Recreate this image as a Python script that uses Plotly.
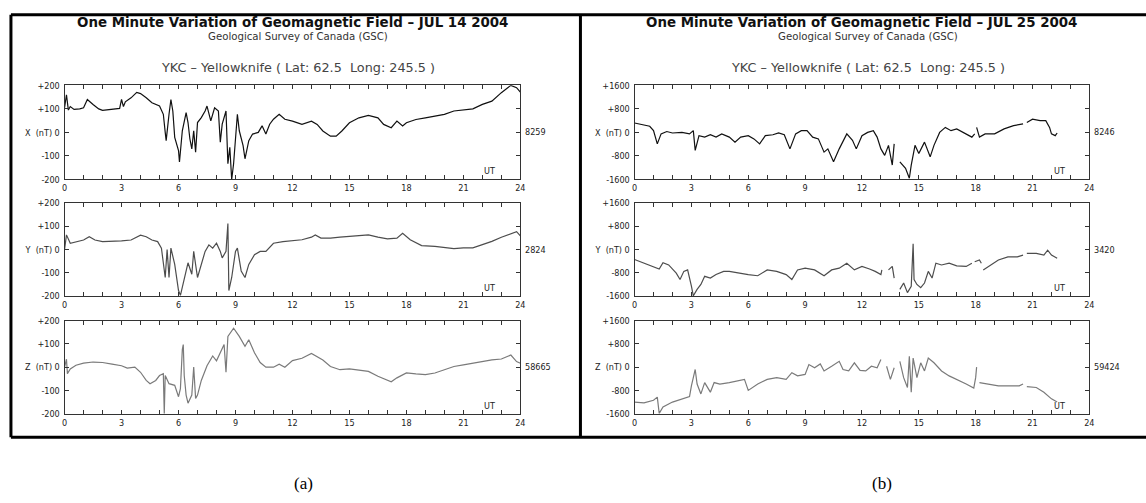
import plotly.graph_objects as go

# ---------------- data ----------------
hour_ticks = list(range(0, 25))
hour_labels = [str(h) if h % 3 == 0 else "" for h in hour_ticks]

left_ticks = [-200, -100, 0, 100, 200]
right_ticks = [-1600, -800, 0, 800, 1600]
left_tick_text = ["-200", "-100", "0", "+100", "+200"]
right_tick_text = ["-1600", "-800", "0", "+800", "+1600"]

components = ["X", "Y", "Z"]
baseline_jul14 = ["8259", "2824", "58665"]
baseline_jul25 = ["8246", "3420", "59424"]

# JUL 14 2004
jul14_x_t = [0, 0.1, 0.2, 0.3, 0.5, 0.8, 1.0, 1.2, 1.5, 1.8, 2.0, 2.5, 2.9, 3.0, 3.1, 3.2, 3.5, 3.8,
             4.0, 4.3, 4.6, 5.0, 5.2, 5.3, 5.35, 5.5, 5.6, 5.7, 5.8, 6.0, 6.05, 6.2, 6.4, 6.5, 6.6,
             6.7, 6.8, 6.9, 7.0, 7.2, 7.4, 7.5, 7.7, 7.9, 8.1, 8.2, 8.3, 8.5, 8.6, 8.7, 8.8, 8.9,
             9.0, 9.1, 9.2, 9.4, 9.5, 9.7, 9.9, 10.2, 10.4, 10.6, 10.8, 11.0, 11.3, 11.6, 12.0,
             12.5, 13.0, 13.3, 13.6, 14.0, 14.3, 14.6, 15.0, 15.5, 16.0, 16.5, 16.8, 17.2, 17.5,
             17.8, 18.0, 18.5, 19.0, 19.5, 20.0, 20.5, 21.0, 21.5, 22.0, 22.5, 23.0, 23.5, 23.8, 24.0]
jul14_x_v = [105, 160, 95, 110, 98, 100, 105, 140, 119, 100, 94, 98, 102, 140, 110, 130, 147, 170,
             165, 147, 126, 112, 77, 0, -35, 77, 140, 91, -21, -77, -126, 7, 84, 42, -28,
             -70, 7, -84, 42, 63, 91, 112, 49, 105, 91, -42, 35, 91, -133, -63, -200, -133,
             -35, 77, 7, -56, -112, -35, -7, 0, 28, -7, 35, 56, 77, 56, 48,
             34, 48, 34, 6, -16, -16, 6, 41, 62, 72, 62, 34, 20, 48,
             27, 41, 55, 62, 70, 77, 91, 95, 100, 119, 133, 169, 200, 190, 171]

jul14_y_t = [0, 0.1, 0.3, 0.7, 1.0, 1.3, 1.6, 2.0, 2.5, 3.0, 3.5, 4.0, 4.3, 4.6, 4.9, 5.1, 5.3, 5.4,
             5.5, 5.6, 5.8, 6.0, 6.1, 6.3, 6.5, 6.7, 6.8, 7.0, 7.2, 7.4, 7.6, 7.8, 8.0, 8.2, 8.3,
             8.5, 8.6, 8.65, 8.8, 9.0, 9.1, 9.3, 9.5, 9.7, 10.0, 10.3, 10.6, 11.0, 11.5, 12.0,
             12.5, 13.0, 13.2, 13.5, 14.0, 14.5, 15.0, 15.5, 16.0, 16.5, 17.0, 17.5, 17.8, 18.2,
             18.8, 19.5, 20.0, 20.5, 21.0, 21.5, 22.0, 22.5, 23.0, 23.5, 23.8, 24.0]
jul14_y_v = [0, 63, 27, 34, 41, 55, 41, 34, 34, 37, 41, 62, 55, 41, 34, 6, -120, 0,
             -120, 6, -64, -176, -197, -120, -57, -106, -8, -120, -64, -8, 20, 6, 27, -8, -36,
             -8, 112, -176, -120, -8, 6, -92, -120, -64, -22, -8, -8, 27, 34, 37,
             42, 53, 63, 49, 49, 53, 56, 59, 63, 53, 46, 49, 70, 42,
             17, 14, 10, 4, 7, 7, 21, 35, 53, 70, 77, 59]

jul14_z_t = [0, 0.1, 0.15, 0.3, 0.6, 1.0, 1.5, 2.0, 2.5, 3.0, 3.3, 3.7, 4.0, 4.3, 4.5, 4.8, 5.0,
             5.2, 5.25, 5.3, 5.5, 5.8, 6.0, 6.1, 6.2, 6.25, 6.3, 6.4, 6.5, 6.7, 6.8, 6.9, 7.0,
             7.2, 7.5, 7.8, 8.0, 8.2, 8.4, 8.5, 8.6, 8.9, 9.2, 9.5, 9.7, 10.0, 10.3, 10.6, 11.0,
             11.3, 11.6, 12.0, 12.5, 13.0, 13.3, 13.6, 14.0, 14.5, 15.0, 15.5, 16.0, 16.5, 17.0,
             17.2, 17.5, 18.0, 18.5, 19.0, 19.5, 20.0, 20.5, 21.0, 21.5, 22.0, 22.5, 23.0, 23.5,
             23.8, 24.0]
jul14_z_v = [0, 34, -28, -8, 8, 17, 22, 20, 13, 6, -4, 0, -22, -57, -71, -57, -36,
             -28, -200, -36, -71, -78, -127, -92, 76, 97, -36, -120, -155, -120, 0, -134, -120,
             -57, 6, 48, 27, 62, 97, -22, 132, 167, 132, 90, 118, 62, 20, 0, 0,
             13, 0, 28, 38, 59, 45, 31, 3, -11, -7, -11, -18, -39, -58,
             -63, -46, -25, -29, -32, -25, -11, 3, 10, 17, 27, 31, 35, 52,
             24, 17]

# JUL 25 2004 (None = missing data)
jul25_x_t = [0, 0.5, 0.8, 1.0, 1.2, 1.4, 1.7, 2.0, 2.5, 2.9, 3.1, 3.2, 3.4, 3.7, 4.0, 4.3, 4.6, 5.0,
             5.3, 5.6, 6.0, 6.3, 6.6, 6.9, 7.3, 7.6, 7.9, 8.2, 8.5, 8.8, 9.1, 9.4, 9.7, 10.0, 10.2,
             10.5, 10.8, 11.2, 11.5, 11.7, 12.0, 12.3, 12.6, 12.8, 13.0, 13.2, 13.4, 13.6, 13.7,
             13.85, 14.0, 14.3, 14.5, 14.6, 14.8, 15.0, 15.3, 15.6, 15.8, 16.1, 16.4, 16.7, 17.0,
             17.4, 17.8, 17.95, 18.0, 18.05, 18.2, 18.5, 19.0, 19.5, 20.0, 20.5, 20.6, 20.7, 21.0,
             21.4, 21.7, 21.9, 22.0, 22.2, 22.3]
jul25_x_v = [320, 250, 210, 60, -390, -50, 30, -20, 0, -50, 60, -610, -110, -160, -80, -160, -50, -160,
             -330, -160, -110, -220, -390, -110, -80, -20, -80, -560, -50, 60, 60, -160, -220, -670, -560,
             -1000, -560, -50, -270, -560, -110, 0, 60, -160, -560, -780, -440, -1110, -390,
             None, -1000, -1220, -1560, -1110, -440, -720, -330, -830, -440, 0, 170, 60, 120,
             -20, -160, -50, None, 170, -160, -50, -50, 120, 230, 290, None, 340, 450,
             400, 400, 170, -50, -110, -20]

jul25_y_t = [0, 0.5, 1.0, 1.3, 1.5, 1.8, 2.2, 2.4, 2.6, 2.8, 3.0, 3.1, 3.3, 3.5, 3.7, 4.0, 4.3, 4.7,
             5.0, 5.5, 6.0, 6.5, 7.0, 7.5, 8.0, 8.3, 8.6, 9.0, 9.5, 10.0, 10.4, 10.8, 11.2, 11.6,
             12.0, 12.4, 12.7, 13.0, 13.05, 13.2, 13.4, 13.6, 13.7, 13.85, 14.0, 14.2, 14.4, 14.6,
             14.7, 14.75, 14.9, 15.1, 15.3, 15.5, 15.7, 15.9, 16.2, 16.6, 17.0, 17.5, 17.8, 17.9,
             17.95, 18.2, 18.3, 18.35, 18.4, 18.8, 19.2, 19.7, 20.2, 20.5, 20.6, 20.7, 21.2, 21.6,
             21.8, 22.0, 22.3]
jul25_y_v = [-340, -470, -580, -670, -450, -530, -810, -1030, -750, -700, -1260, -1590, -1370, -1200, -920, -980, -860, -750,
             -750, -810, -860, -900, -700, -750, -860, -1030, -700, -640, -700, -900, -700, -640, -470, -700,
             -580, -670, -750, -860, -700, None, -700, -580, -980, None, -1370, -1150, -1480, -1260,
             200, -1030, -1200, -1310, -1150, -750, -980, -470, -530, -470, -560, -580, -470, None,
             -420, -360, -470, None, -700, -530, -360, -250, -250, -190, None, -130, -130, -190,
             -20, -190, -300]

jul25_z_t = [0, 0.5, 1.0, 1.2, 1.3, 1.5, 2.0, 2.5, 2.9, 3.0, 3.2, 3.3, 3.5, 3.7, 4.0, 4.2, 4.5, 5.0,
             5.5, 5.8, 6.0, 6.2, 6.5, 7.0, 7.5, 8.0, 8.3, 8.6, 9.0, 9.2, 9.5, 9.8, 10.0, 10.4, 10.8,
             11.0, 11.3, 11.6, 11.9, 12.2, 12.5, 12.8, 13.0, 13.15, 13.3, 13.5, 13.7, 13.85, 14.0,
             14.2, 14.4, 14.5, 14.6, 14.7, 14.9, 15.1, 15.3, 15.5, 15.8, 16.2, 16.6, 17.0, 17.5,
             17.9, 18.0, 18.05, 18.1, 18.2, 18.7, 19.2, 19.8, 20.3, 20.5, 20.6, 20.7, 21.2, 21.6,
             22.0, 22.3]
jul25_z_v = [-1200, -1230, -1140, -1030, -1590, -1370, -1200, -1090, -1010, -640, -80, -580, -920, -530, -860, -530, -580, -530,
             -470, -420, -800, -700, -580, -420, -360, -420, -190, -300, -250, 90, -20, 110, -130, 30, 200,
             -80, -130, 150, -110, -130, 30, -20, 260, None, 30, -420, -20, None, 200,
             -360, -700, 370, -860, 310, -360, 150, -130, 310, 150, -130, -300, -420, -580,
             -720, -360, 0, None, -530, -580, -640, -640, -640, -580, None, -670, -700, -860,
             -1090, -1200]

titles = ["One Minute Variation of Geomagnetic Field \u2013 JUL 14 2004",
          "One Minute Variation of Geomagnetic Field \u2013 JUL 25 2004"]
subtitle = "Geological Survey of Canada (GSC)"
station = "YKC \u2013 Yellowknife ( Lat: 62.5\u00a0\u00a0Long: 245.5 )"
captions = ["(a)", "(b)"]

# ---------------- layout helpers ----------------
W, H = 1146, 503
def px(x):
    return x / W
def py(y):
    return 1 - y / H

col_px = [(62, 521), (636, 1094)]
row_px = [(82, 178), (202, 297), (322, 417)]
line_colors = ["#111111", "#4d4d4d", "#7a7a7a"]
tick_font = dict(family="DejaVu Sans Condensed, Liberation Sans Narrow, Arial Narrow, sans-serif",
                 size=9, color="#222222")
head_family = "DejaVu Sans, Verdana, sans-serif"

series = [
    [(jul14_x_t, jul14_x_v), (jul14_y_t, jul14_y_v), (jul14_z_t, jul14_z_v)],
    [(jul25_x_t, jul25_x_v), (jul25_y_t, jul25_y_v), (jul25_z_t, jul25_z_v)],
]
baselines = [baseline_jul14, baseline_jul25]
yticks = [left_ticks, right_ticks]
ytick_text = [left_tick_text, right_tick_text]

fig = go.Figure()
layout = dict(width=W, height=H, margin=dict(l=0, r=0, t=0, b=0),
              paper_bgcolor="white", plot_bgcolor="white", showlegend=False)
annotations = []
n = 0
for c in range(2):
    for r in range(3):
        n += 1
        xa = "x" if n == 1 else f"x{n}"
        ya = "y" if n == 1 else f"y{n}"
        t, v = series[c][r]
        fig.add_trace(go.Scatter(x=t, y=v, mode="lines", xaxis=xa, yaxis=ya,
                                 line=dict(color=line_colors[r], width=1.2),
                                 connectgaps=False, hoverinfo="skip"))
        lim = yticks[c][-1]
        ttext = list(ytick_text[c])
        ttext[2] = f"{components[r]}\u00a0\u00a0(nT)\u00a00"
        layout["xaxis" if n == 1 else f"xaxis{n}"] = dict(
            domain=[px(col_px[c][0]), px(col_px[c][1])], anchor=ya, range=[0, 24],
            tickvals=hour_ticks, ticktext=hour_labels, ticks="inside", ticklen=4,
            tickcolor="#333333", showline=True, linecolor="#333333", linewidth=1,
            mirror="ticks", showgrid=False, zeroline=False, tickfont=tick_font)
        layout["yaxis" if n == 1 else f"yaxis{n}"] = dict(
            domain=[py(row_px[r][1]), py(row_px[r][0])], anchor=xa, range=[-lim, lim],
            tickvals=yticks[c], ticktext=ttext, ticks="inside", ticklen=4,
            tickcolor="#333333", showline=True, linecolor="#333333", linewidth=1,
            mirror="ticks", showgrid=False, zeroline=False, tickfont=tick_font,
            ticklabelstandoff=2)
        annotations.append(dict(text=baselines[c][r], xref=f"{xa} domain", yref=ya,
                                x=1, y=0, xanchor="left", yanchor="middle", xshift=3,
                                showarrow=False, font=tick_font))
        annotations.append(dict(text="UT", xref=xa, yref=f"{ya} domain",
                                x=22.4, y=0, xanchor="center", yanchor="bottom", yshift=1,
                                showarrow=False, font=tick_font))
    cx = (col_px[c][0] + col_px[c][1]) / 2
    annotations.append(dict(text=f"<b>{titles[c]}</b>", xref="paper", yref="paper",
                            x=px(cx), y=py(18), xanchor="center", yanchor="middle",
                            showarrow=False,
                            font=dict(family=head_family, size=13.4, color="#111")))
    annotations.append(dict(text=subtitle, xref="paper", yref="paper",
                            x=px(cx + 6), y=py(32), xanchor="center", yanchor="middle",
                            showarrow=False,
                            font=dict(family=head_family, size=10.2, color="#333")))
    annotations.append(dict(text=station, xref="paper", yref="paper",
                            x=px(cx + 6), y=py(64), xanchor="center", yanchor="middle",
                            showarrow=False,
                            font=dict(family=head_family, size=12.8, color="#444")))

cap_x = [303, 885]
for c in range(2):
    annotations.append(dict(text=captions[c], xref="paper", yref="paper",
                            x=px(cap_x[c]), y=py(488), xanchor="center", yanchor="middle",
                            showarrow=False,
                            font=dict(family="Liberation Serif, Times New Roman, serif", size=17, color="#000")))

frame = dict(color="#000000", width=3)
shapes = [
    dict(type="line", xref="paper", yref="paper", x0=px(8), x1=1.01, y0=py(10), y1=py(10), line=frame),
    dict(type="line", xref="paper", yref="paper", x0=px(8), x1=1.01, y0=py(441), y1=py(441), line=frame),
    dict(type="line", xref="paper", yref="paper", x0=px(8), x1=px(8), y0=py(10), y1=py(441), line=frame),
    dict(type="line", xref="paper", yref="paper", x0=px(581.5), x1=px(581.5), y0=py(10), y1=py(441), line=frame),
]
layout["annotations"] = annotations
layout["shapes"] = shapes
fig.update_layout(**layout)
fig.write_html("out.html")
